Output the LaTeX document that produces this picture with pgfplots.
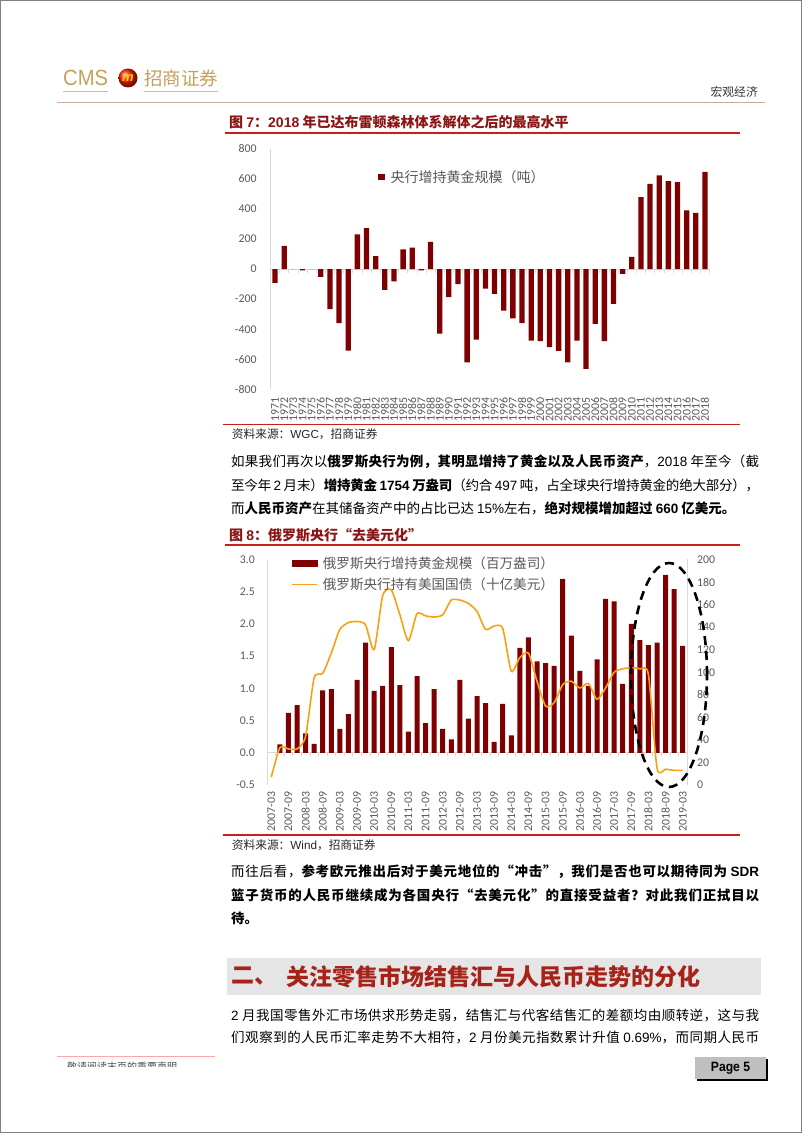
\documentclass[border=0pt]{standalone}
\usepackage{fontspec}
\usepackage{pgfplots}
\usepackage{pgfplotstable}
\pgfplotsset{compat=1.18}
\setmainfont{Liberation Sans}
\newfontfamily\cjk{Noto Sans CJK SC}
\newfontfamily\arial{Liberation Sans}
\newfontfamily\carlito{Carlito}
\newcommand\fs[1]{\fontsize{#1}{#1}\selectfont}

\definecolor{barred}{RGB}{127,0,0}
\definecolor{lineorange}{RGB}{250,160,20}
\definecolor{txtgray}{RGB}{89,89,89}
\definecolor{axgray}{RGB}{217,217,217}
\definecolor{titlered}{RGB}{140,20,20}
\definecolor{rulered}{RGB}{200,30,30}
\definecolor{gold}{RGB}{196,160,90}
\definecolor{headline}{RGB}{200,170,160}
\definecolor{secred}{RGB}{165,35,25}

% stretchable glue between CJK characters, so justified lines can fill
\newcount\cjkcc
\newcommand\cjkrange[2]{\cjkcc=#1\relax
  \loop\XeTeXcharclass\cjkcc=1\relax\advance\cjkcc by 1\relax\ifnum\cjkcc<#2\repeat}
\cjkrange{"4E00}{"A000}
\cjkrange{"3000}{"3040}
\cjkrange{"FF00}{"FFF0}
\XeTeXcharclass"201C=1\relax
\XeTeXcharclass"201D=1\relax
\XeTeXinterchartoks 1 1 = {\hskip0pt plus 2pt minus 0.4pt}%
\XeTeXinterchartokenstate=1\relax

% central bank net gold purchases, tonnes
\pgfplotstableread{
year val
1971 -92
1972 155
1973 0
1974 -9
1975 0
1976 -52
1977 -266
1978 -360
1979 -543
1980 231
1981 273
1982 87
1983 -138
1984 -82
1985 131
1986 144
1987 -9
1988 182
1989 -429
1990 -187
1991 -100
1992 -620
1993 -469
1994 -129
1995 -164
1996 -276
1997 -327
1998 -360
1999 -476
2000 -480
2001 -520
2002 -544
2003 -620
2004 -476
2005 -664
2006 -364
2007 -480
2008 -231
2009 -31
2010 82
2011 480
2012 568
2013 624
2014 586
2015 580
2016 391
2017 375
2018 648
}\goldtab

% Russia: gold added (mn oz), US treasuries held (bn USD)
\pgfplotstableread{
date gold ust
2007-03 nan 7
2007-06 0.13 33
2007-09 0.62 32
2007-12 0.74 32
2008-03 0.30 43
2008-06 0.14 95
2008-09 0.97 99
2008-12 0.99 117
2009-03 0.37 138
2009-06 0.60 144
2009-09 1.13 145
2009-12 1.71 142
2010-03 0.96 120
2010-06 1.04 168
2010-09 1.64 173
2010-12 1.05 151
2011-03 0.33 128
2011-06 1.19 152
2011-09 0.46 150
2011-12 0.99 149
2012-03 0.37 151
2012-06 0.21 164
2012-09 1.13 164
2012-12 0.53 161
2013-03 0.88 154
2013-06 0.77 138
2013-09 0.17 141
2013-12 0.76 139
2014-03 0.27 101
2014-06 1.63 113
2014-09 1.79 117
2014-12 1.42 92
2015-03 1.39 70
2015-06 1.35 73
2015-09 2.70 89
2015-12 1.82 92
2016-03 1.27 86
2016-06 1.04 90
2016-09 1.45 76
2016-12 2.39 86
2017-03 2.35 100
2017-06 1.07 103
2017-09 2.00 104
2017-12 1.75 103
2018-03 1.67 98
2018-06 1.71 15
2018-09 2.76 14
2018-12 2.54 13
2019-03 1.66 13
}\rustab

\begin{document}
\begin{tikzpicture}[x=1pt,y=1pt]
% page
\fill[white] (0,0) rectangle (802,1133);
\draw[gray, line width=1pt] (0.5,0.5) rectangle (801.5,1132.5);

% header
\node[anchor=west, inner sep=0, text=gold] at (63,1055) {\scalebox{0.92}[1]{\arial\fs{22}CMS}};
\shade[ball color=red!80!orange] (128,1055) circle (9.5);
\node[text=yellow!70!orange, inner sep=0] at (128,1055) {\arial\bfseries\itshape\fs{13}m};
\node[anchor=west, inner sep=0, text=gold] at (144,1055) {\cjk\fs{18.5}招商证券};
\draw[gold!70, line width=0.8pt] (63,1042) -- (108,1042) (144,1042) -- (218,1042);
\draw[headline, line width=1.2pt] (57,1030.3) -- (765,1030.3);
\node[anchor=east, inner sep=0, text=black!80] at (758,1041) {\cjk\fs{11.8}宏观经济};

% figure 7
\node[anchor=west, inner sep=0, text=titlered] at (229,1011.3) {\cjk\bfseries\fs{14}图 {\arial 7}：{\arial 2018} 年已达布雷顿森林体系解体之后的最高水平};
\draw[rulered, line width=1.5pt] (225,1000) -- (740,1000);

\begin{axis}[
  at={(270pt,743.7pt)}, anchor=south west, scale only axis,
  width=440pt, height=240.3pt,
  xmin=-0.55, xmax=47.55, ymin=-800, ymax=800,
  ytick={-800,-600,...,800},
  xtick=data, xticklabels from table={\goldtab}{year},
  axis y line*=left, axis x line*=bottom,
  x axis line style={draw=none},
  y axis line style={axgray, line width=0.8pt, -},
  tick style={draw=none},
  tick label style={font=\carlito\fs{11.8}, text=txtgray},
  /pgf/number format/assume math mode=true,
  yticklabel style={anchor=east, inner sep=0pt, xshift=-13.3pt},
  xticklabel style={rotate=90, anchor=east, inner xsep=8.4pt, inner ysep=0pt},
  legend style={draw=none, fill=none, at={(0,1)}, anchor=north west,
    xshift=108pt, yshift=-19pt, inner sep=0pt, column sep=4pt,
    font=\cjk\fs{14}, text=txtgray},
  clip=false,
]
\draw[axgray, line width=0.8pt] (axis cs:-0.55,0) -- (axis cs:47.55,0);
\pgfplotsinvokeforeach{-0.5,0.5,...,47.5}{\draw[axgray, line width=0.6pt] (axis cs:#1,0) -- ++(0pt,-3.5pt);}
\addplot[ybar, bar width=5.3pt, fill=barred, draw=none,
  legend image code/.code={\fill[barred] (0pt,-3.15pt) rectangle (6.3pt,3.15pt);}]
  table[x expr=\coordindex, y=val] {\goldtab};
\addlegendentry{央行增持黄金规模（吨）}
\end{axis}

\draw[rulered, line width=1.5pt] (223,708.7) -- (740,708.7);
\node[anchor=west, inner sep=0, text=black!85] at (231.7,699) {\cjk\fs{11.7}资料来源：{\arial WGC}，招商证券};

% paragraph 1
\node[anchor=west, inner sep=0] at (231,671) {\makebox[528pt][s]{\cjk\fs{13.5}如果我们再次以\textbf{俄罗斯央行为例，其明显增持了黄金以及人民币资产}，{\arial 2018} 年至今（截}};
\node[anchor=west, inner sep=0] at (231,648) {\makebox[528pt][s]{\cjk\fs{13.5}至今年 {\arial 2} 月末）\textbf{增持黄金 {\arial 1754} 万盎司}（约合 {\arial 497} 吨，占全球央行增持黄金的绝大部分），}};
\node[anchor=west, inner sep=0] at (231,625) {\cjk\fs{13.5}而\textbf{人民币资产}在其储备资产中的占比已达 {\arial 15\%}左右，\textbf{绝对规模增加超过 {\arial 660} 亿美元。}};

% figure 8
\node[anchor=west, inner sep=0, text=titlered] at (229,597.5) {\cjk\bfseries\fs{14}图 {\arial 8}：俄罗斯央行“去美元化”};
\draw[rulered, line width=1.5pt] (225,588) -- (740,588);

\begin{axis}[
  at={(267pt,348pt)}, anchor=south west, scale only axis,
  width=420pt, height=225.5pt,
  xmin=-0.5, xmax=48.5, ymin=-0.5, ymax=3,
  ytick={-0.5,0,...,3},
  xtick={0,2,...,48},
  xticklabels={2007-03,2007-09,2008-03,2008-09,2009-03,2009-09,2010-03,2010-09,2011-03,2011-09,2012-03,2012-09,2013-03,2013-09,2014-03,2014-09,2015-03,2015-09,2016-03,2016-09,2017-03,2017-09,2018-03,2018-09,2019-03},
  axis y line*=left, axis x line*=bottom,
  x axis line style={draw=none},
  y axis line style={axgray, line width=0.8pt, -},
  tick style={draw=none},
  tick label style={font=\carlito\fs{11.8}, text=txtgray},
  /pgf/number format/assume math mode=true,
  yticklabel style={anchor=east, inner sep=0pt, xshift=-12pt,
    /pgf/number format/.cd, fixed, fixed zerofill, precision=1},
  xticklabel style={rotate=90, anchor=east, inner xsep=6.7pt, inner ysep=0pt},
  clip=false,
]
\draw[axgray, line width=0.8pt] (axis cs:-0.5,0) -- (axis cs:48.5,0);
\pgfplotsinvokeforeach{-0.5,0.5,...,48.5}{\draw[axgray, line width=0.6pt] (axis cs:#1,0) -- ++(0pt,-3pt);}
\addplot[ybar, bar width=5pt, fill=barred, draw=none]
  table[x expr=\coordindex, y=gold] {\rustab};
\end{axis}

\begin{axis}[
  at={(267pt,348pt)}, anchor=south west, scale only axis,
  width=420pt, height=225.5pt,
  xmin=-0.5, xmax=48.5, ymin=0, ymax=200,
  ytick={0,20,...,200},
  axis y line*=right, axis x line=none,
  y axis line style={axgray, line width=0.8pt, -},
  tick style={draw=none},
  tick label style={font=\carlito\fs{11.8}, text=txtgray},
  /pgf/number format/assume math mode=true,
  yticklabel style={anchor=west, inner sep=0pt, xshift=10pt},
  legend style={draw=none, fill=none, at={(0,1)}, anchor=north west,
    xshift=24pt, yshift=5pt, inner sep=0pt, column sep=3pt, row sep=4pt,
    font=\cjk\fs{13.6}, text=txtgray},
  legend cell align=left,
  clip=false,
]
\addlegendimage{legend image code/.code={\fill[barred] (0pt,-2.6pt) rectangle (25pt,2.6pt);}}
\addlegendentry{俄罗斯央行增持黄金规模（百万盎司）}
\addplot[lineorange, line width=1.6pt, smooth, tension=0.4,
  legend image code/.code={\draw[lineorange, line width=1.6pt] (0pt,0pt) -- (25pt,0pt);}]
  table[x expr=\coordindex, y=ust] {\rustab};
\addlegendentry{俄罗斯央行持有美国国债（十亿美元）}
\end{axis}

\draw[black, line width=2.6pt, dash pattern=on 9pt off 6pt] (669,458) ellipse [x radius=38, y radius=112];

\draw[rulered, line width=1.5pt] (223,298) -- (740,298);
\node[anchor=west, inner sep=0, text=black!85] at (231.7,288) {\cjk\fs{11.7}资料来源：{\arial Wind}，招商证券};

% paragraph 2
\node[anchor=west, inner sep=0] at (231,261) {\makebox[528pt][s]{\cjk\fs{13.5}而往后看，\textbf{参考欧元推出后对于美元地位的“冲击”，我们是否也可以期待同为 {\arial SDR}}}};
\node[anchor=west, inner sep=0] at (231,238) {\makebox[528pt][s]{\cjk\fs{13.5}\textbf{篮子货币的人民币继续成为各国央行“去美元化”的直接受益者？对此我们正拭目以}}};
\node[anchor=west, inner sep=0] at (231,215) {\cjk\fs{13.5}\textbf{待。}};

% section heading
\fill[black!10] (227,138) rectangle (761,175);
\node[anchor=west, inner sep=0, text=secred] at (231,156.5) {\cjk\bfseries\fs{23}二、};
\node[anchor=west, inner sep=0, text=secred] at (286,156.5) {\cjk\bfseries\fs{23}关注零售市场结售汇与人民币走势的分化};

% paragraph 3
\node[anchor=west, inner sep=0] at (231,118) {\makebox[528pt][s]{\cjk\fs{13.5}{\arial 2} 月我国零售外汇市场供求形势走弱，结售汇与代客结售汇的差额均由顺转逆，这与我}};
\node[anchor=west, inner sep=0] at (231,95) {\makebox[528pt][s]{\cjk\fs{13.5}们观察到的人民币汇率走势不大相符，{\arial 2} 月份美元指数累计升值 {\arial 0.69\%}，而同期人民币}};

% footer
\draw[red!35, line width=0.8pt] (57,76.3) -- (215,76.3);
\begin{scope}
\clip (60,66.5) rectangle (220,72);
\node[anchor=west, inner sep=0, text=black!70] at (67,66) {\cjk\fs{10}敬请阅读末页的重要声明};
\end{scope}
\fill[black] (697,52) rectangle (768,74);
\fill[black!25] (695,54) rectangle (766,76);
\node[inner sep=0] at (730.5,65) {\scalebox{0.9}[1]{\arial\bfseries\fs{13.5}Page 5}};
\end{tikzpicture}
\end{document}
